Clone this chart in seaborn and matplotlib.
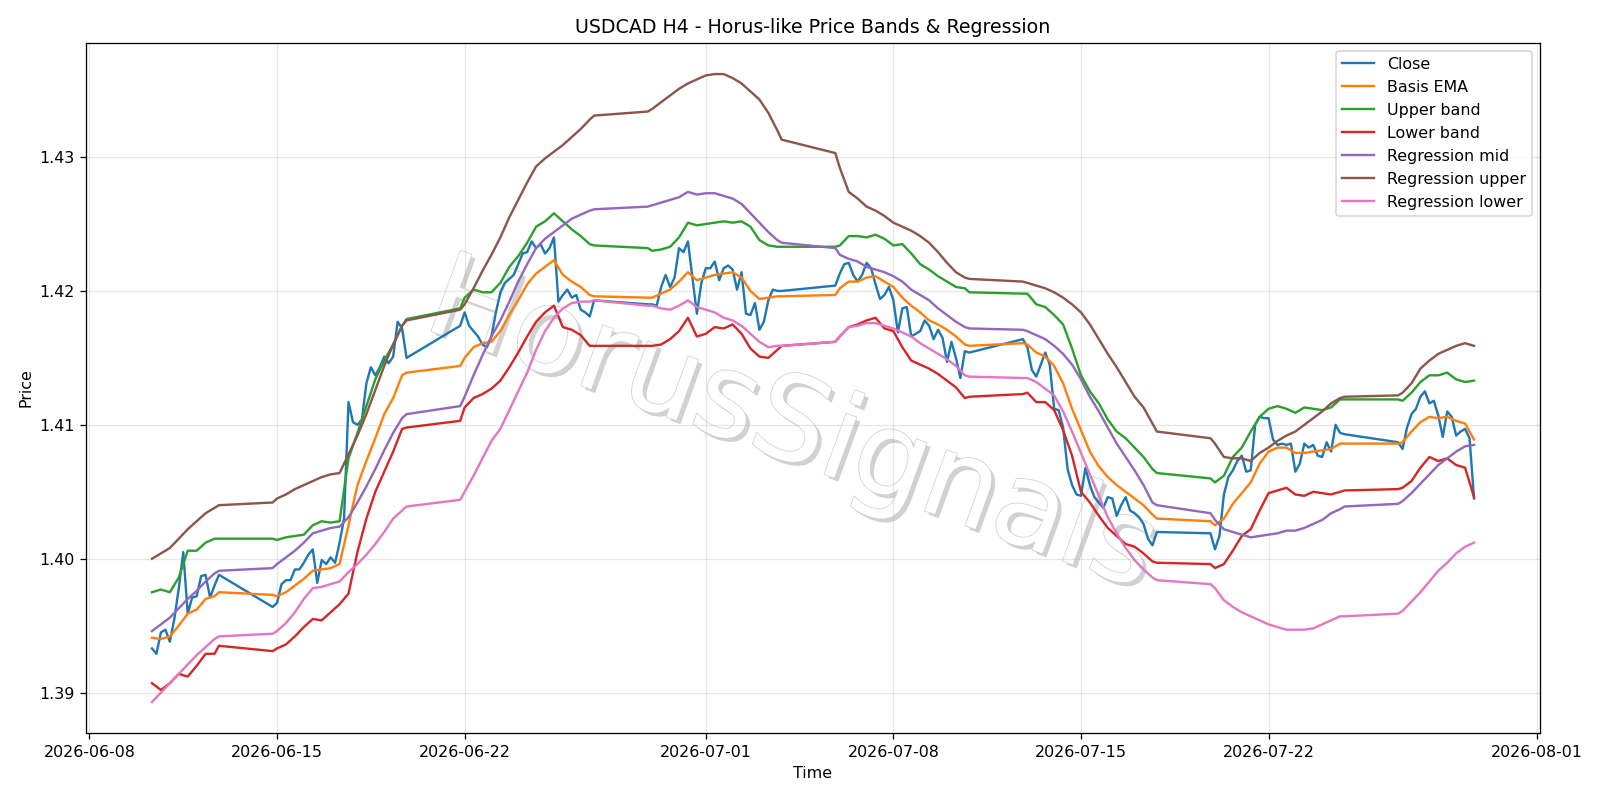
import pandas as pd
import numpy as np
import matplotlib
matplotlib.use("Agg")
import matplotlib.pyplot as plt
import matplotlib.patheffects as pe
import seaborn as sns

# ---------------------------------------------------------
# H4 bars of the FX week: Sunday 20:00 through Friday 20:00
# ---------------------------------------------------------
bars = pd.date_range("2026-06-10 08:00", "2026-07-29 16:00", freq="4h")
bars = bars[~((bars.dayofweek == 5) | ((bars.dayofweek == 6) & (bars.hour < 20)))]
# smooth curves are read every 8 hours (plus Friday close / Sunday open)
knots = bars[(bars.hour % 8 == 0) | ((bars.hour == 20) & bars.dayofweek.isin([4, 6]))]

# one line per trading week
close = [
    1.3933, 1.3929, 1.3945, 1.3947, 1.3938, 1.3955, 1.3978, 1.4005, 1.3959, 1.3971, 1.3972, 1.3987, 1.3988, 1.3971, 1.3980, 1.3988,
    1.3964, 1.3967, 1.3981, 1.3984, 1.3984, 1.3992, 1.3992, 1.3997, 1.4003, 1.4007, 1.3982, 1.3999, 1.3996, 1.4001, 1.3997, 1.4012, 1.4030, 1.4117, 1.4102, 1.4100, 1.4104, 1.4131, 1.4143, 1.4137, 1.4143, 1.4151, 1.4146, 1.4151, 1.4177, 1.4172, 1.4150,
    1.4174, 1.4184, 1.4174, 1.4170, 1.4166, 1.4160, 1.4158, 1.4166, 1.4184, 1.4199, 1.4206, 1.4209, 1.4212, 1.4220, 1.4228, 1.4229, 1.4237, 1.4232, 1.4235, 1.4228, 1.4232, 1.4240, 1.4192, 1.4197, 1.4201, 1.4195, 1.4197, 1.4186, 1.4184, 1.4181, 1.4193,
    1.4190, 1.4190, 1.4189, 1.4203, 1.4212, 1.4203, 1.4210, 1.4232, 1.4229, 1.4237, 1.4210, 1.4183, 1.4206, 1.4217, 1.4217, 1.4222, 1.4208, 1.4217, 1.4219, 1.4216, 1.4201, 1.4214, 1.4183, 1.4182, 1.4191, 1.4171, 1.4177, 1.4193, 1.4201, 1.4200, 1.4200,
    1.4204, 1.4213, 1.4220, 1.4221, 1.4212, 1.4207, 1.4212, 1.4221, 1.4217, 1.4205, 1.4194, 1.4197, 1.4203, 1.4193, 1.4169, 1.4187, 1.4188, 1.4166, 1.4168, 1.4170, 1.4178, 1.4174, 1.4164, 1.4171, 1.4165, 1.4147, 1.4162, 1.4150, 1.4135, 1.4155, 1.4154,
    1.4164, 1.4158, 1.4141, 1.4136, 1.4145, 1.4154, 1.4145, 1.4112, 1.4111, 1.4098, 1.4067, 1.4055, 1.4048, 1.4047, 1.4068, 1.4055, 1.4046, 1.4042, 1.4038, 1.4046, 1.4045, 1.4032, 1.4040, 1.4046, 1.4036, 1.4034, 1.4031, 1.4026, 1.4015, 1.4010, 1.4020,
    1.4019, 1.4007, 1.4017, 1.4048, 1.4061, 1.4066, 1.4073, 1.4077, 1.4065, 1.4066, 1.4100, 1.4106, 1.4105, 1.4105, 1.4089, 1.4085, 1.4086, 1.4085, 1.4086, 1.4065, 1.4071, 1.4086, 1.4083, 1.4085, 1.4077, 1.4076, 1.4087, 1.4080, 1.4100, 1.4094, 1.4093,
    1.4087, 1.4082, 1.4098, 1.4108, 1.4112, 1.4121, 1.4125, 1.4116, 1.4118, 1.4107, 1.4091, 1.4110, 1.4106, 1.4092, 1.4095, 1.4097, 1.4090, 1.4045,
]

basis_ema = [
    1.3941, 1.3940, 1.3942, 1.3950, 1.3959, 1.3962, 1.3970, 1.3972, 1.3975,
    1.3973, 1.3972, 1.3975, 1.3980, 1.3985, 1.3991, 1.3992, 1.3993, 1.3996, 1.4025, 1.4055, 1.4073, 1.4090, 1.4108, 1.4120, 1.4137, 1.4139,
    1.4144, 1.4150, 1.4158, 1.4161, 1.4162, 1.4170, 1.4182, 1.4193, 1.4205, 1.4213, 1.4218, 1.4223, 1.4212, 1.4207, 1.4203, 1.4197, 1.4196,
    1.4195, 1.4195, 1.4198, 1.4201, 1.4207, 1.4214, 1.4208, 1.4210, 1.4212, 1.4213, 1.4214, 1.4210, 1.4200, 1.4194, 1.4195, 1.4196, 1.4196,
    1.4197, 1.4202, 1.4207, 1.4207, 1.4210, 1.4211, 1.4207, 1.4203, 1.4195, 1.4189, 1.4184, 1.4178, 1.4175, 1.4171, 1.4166, 1.4160, 1.4159,
    1.4161, 1.4160, 1.4154, 1.4151, 1.4144, 1.4131, 1.4112, 1.4096, 1.4080, 1.4069, 1.4061, 1.4055, 1.4050, 1.4045, 1.4040, 1.4033, 1.4030,
    1.4028, 1.4025, 1.4030, 1.4041, 1.4049, 1.4057, 1.4071, 1.4080, 1.4083, 1.4083, 1.4079, 1.4079, 1.4080, 1.4081, 1.4082, 1.4086, 1.4086,
    1.4086, 1.4087, 1.4095, 1.4102, 1.4106, 1.4105, 1.4106, 1.4103, 1.4101, 1.4089,
]

upper_band = [
    1.3975, 1.3977, 1.3975, 1.3986, 1.4006, 1.4006, 1.4012, 1.4015, 1.4015,
    1.4015, 1.4014, 1.4016, 1.4017, 1.4018, 1.4025, 1.4028, 1.4027, 1.4028, 1.4075, 1.4094, 1.4114, 1.4134, 1.4148, 1.4160, 1.4174, 1.4179,
    1.4187, 1.4195, 1.4201, 1.4199, 1.4199, 1.4206, 1.4218, 1.4226, 1.4236, 1.4248, 1.4252, 1.4258, 1.4252, 1.4246, 1.4241, 1.4235, 1.4234,
    1.4232, 1.4230, 1.4231, 1.4233, 1.4240, 1.4251, 1.4249, 1.4250, 1.4251, 1.4252, 1.4251, 1.4252, 1.4248, 1.4238, 1.4234, 1.4233, 1.4233,
    1.4233, 1.4234, 1.4241, 1.4241, 1.4240, 1.4242, 1.4239, 1.4234, 1.4235, 1.4228, 1.4220, 1.4216, 1.4211, 1.4207, 1.4203, 1.4202, 1.4199,
    1.4198, 1.4198, 1.4190, 1.4188, 1.4182, 1.4175, 1.4157, 1.4137, 1.4125, 1.4116, 1.4104, 1.4095, 1.4090, 1.4083, 1.4076, 1.4067, 1.4064,
    1.4060, 1.4057, 1.4062, 1.4076, 1.4083, 1.4095, 1.4106, 1.4112, 1.4114, 1.4112, 1.4109, 1.4113, 1.4112, 1.4111, 1.4113, 1.4119, 1.4119,
    1.4119, 1.4118, 1.4124, 1.4132, 1.4137, 1.4137, 1.4139, 1.4134, 1.4132, 1.4133,
]

lower_band = [
    1.3907, 1.3902, 1.3907, 1.3914, 1.3912, 1.3920, 1.3929, 1.3929, 1.3935,
    1.3931, 1.3933, 1.3936, 1.3942, 1.3949, 1.3955, 1.3954, 1.3960, 1.3966, 1.3974, 1.4005, 1.4030, 1.4050, 1.4065, 1.4080, 1.4097, 1.4098,
    1.4103, 1.4113, 1.4120, 1.4123, 1.4127, 1.4133, 1.4143, 1.4154, 1.4166, 1.4177, 1.4184, 1.4189, 1.4173, 1.4171, 1.4167, 1.4159, 1.4159,
    1.4159, 1.4159, 1.4160, 1.4164, 1.4170, 1.4180, 1.4166, 1.4168, 1.4173, 1.4172, 1.4175, 1.4168, 1.4157, 1.4151, 1.4150, 1.4156, 1.4159,
    1.4162, 1.4166, 1.4173, 1.4175, 1.4178, 1.4180, 1.4172, 1.4170, 1.4158, 1.4148, 1.4145, 1.4142, 1.4138, 1.4133, 1.4128, 1.4120, 1.4121,
    1.4123, 1.4124, 1.4117, 1.4117, 1.4111, 1.4096, 1.4077, 1.4050, 1.4042, 1.4032, 1.4023, 1.4017, 1.4011, 1.4009, 1.4004, 1.3998, 1.3997,
    1.3996, 1.3993, 1.3996, 1.4006, 1.4017, 1.4022, 1.4036, 1.4049, 1.4051, 1.4053, 1.4048, 1.4047, 1.4050, 1.4049, 1.4048, 1.4050, 1.4051,
    1.4052, 1.4053, 1.4058, 1.4068, 1.4076, 1.4073, 1.4075, 1.4070, 1.4068, 1.4046,
]

reg_mid = [
    1.3946, 1.3951, 1.3956, 1.3963, 1.3970, 1.3976, 1.3983, 1.3989, 1.3991,
    1.3993, 1.3996, 1.4001, 1.4006, 1.4012, 1.4019, 1.4021, 1.4023, 1.4024, 1.4031, 1.4042, 1.4054, 1.4067, 1.4081, 1.4094, 1.4105, 1.4108,
    1.4114, 1.4121, 1.4137, 1.4152, 1.4166, 1.4178, 1.4192, 1.4207, 1.4220, 1.4232, 1.4239, 1.4244, 1.4249, 1.4254, 1.4257, 1.4260, 1.4261,
    1.4263, 1.4264, 1.4266, 1.4268, 1.4270, 1.4274, 1.4272, 1.4273, 1.4273, 1.4271, 1.4269, 1.4265, 1.4258, 1.4251, 1.4244, 1.4238, 1.4236,
    1.4232, 1.4227, 1.4224, 1.4222, 1.4218, 1.4216, 1.4214, 1.4211, 1.4207, 1.4201, 1.4197, 1.4193, 1.4187, 1.4182, 1.4177, 1.4173, 1.4172,
    1.4171, 1.4170, 1.4167, 1.4164, 1.4159, 1.4153, 1.4145, 1.4134, 1.4121, 1.4110, 1.4098, 1.4086, 1.4076, 1.4066, 1.4055, 1.4042, 1.4040,
    1.4034, 1.4029, 1.4022, 1.4020, 1.4018, 1.4016, 1.4017, 1.4018, 1.4019, 1.4021, 1.4021, 1.4023, 1.4026, 1.4029, 1.4034, 1.4037, 1.4039,
    1.4041, 1.4043, 1.4049, 1.4056, 1.4063, 1.4070, 1.4075, 1.4080, 1.4084, 1.4085,
]

reg_upper = [
    1.4000, 1.4004, 1.4008, 1.4015, 1.4022, 1.4028, 1.4034, 1.4038, 1.4040,
    1.4042, 1.4045, 1.4048, 1.4052, 1.4055, 1.4058, 1.4061, 1.4063, 1.4064, 1.4078, 1.4092, 1.4108, 1.4126, 1.4144, 1.4160, 1.4174, 1.4178,
    1.4186, 1.4190, 1.4202, 1.4215, 1.4227, 1.4240, 1.4255, 1.4268, 1.4281, 1.4293, 1.4299, 1.4304, 1.4309, 1.4315, 1.4321, 1.4328, 1.4331,
    1.4334, 1.4336, 1.4341, 1.4346, 1.4351, 1.4355, 1.4358, 1.4361, 1.4362, 1.4362, 1.4359, 1.4355, 1.4349, 1.4343, 1.4333, 1.4320, 1.4313,
    1.4303, 1.4292, 1.4274, 1.4269, 1.4263, 1.4260, 1.4256, 1.4251, 1.4248, 1.4245, 1.4241, 1.4236, 1.4229, 1.4221, 1.4214, 1.4210, 1.4209,
    1.4207, 1.4206, 1.4204, 1.4202, 1.4199, 1.4195, 1.4190, 1.4184, 1.4175, 1.4164, 1.4153, 1.4143, 1.4132, 1.4121, 1.4113, 1.4101, 1.4095,
    1.4090, 1.4086, 1.4076, 1.4075, 1.4075, 1.4073, 1.4079, 1.4083, 1.4088, 1.4092, 1.4095, 1.4100, 1.4105, 1.4110, 1.4116, 1.4120, 1.4121,
    1.4122, 1.4124, 1.4131, 1.4142, 1.4148, 1.4153, 1.4156, 1.4159, 1.4161, 1.4159,
]

reg_lower = [
    1.3893, 1.3900, 1.3907, 1.3914, 1.3921, 1.3928, 1.3934, 1.3940, 1.3942,
    1.3944, 1.3946, 1.3952, 1.3960, 1.3970, 1.3978, 1.3979, 1.3981, 1.3983, 1.3990, 1.3996, 1.4003, 1.4011, 1.4020, 1.4030, 1.4036, 1.4039,
    1.4044, 1.4050, 1.4062, 1.4075, 1.4088, 1.4097, 1.4111, 1.4125, 1.4139, 1.4156, 1.4170, 1.4180, 1.4187, 1.4191, 1.4192, 1.4192, 1.4193,
    1.4189, 1.4189, 1.4187, 1.4186, 1.4189, 1.4193, 1.4188, 1.4186, 1.4184, 1.4180, 1.4178, 1.4174, 1.4168, 1.4162, 1.4158, 1.4159, 1.4159,
    1.4162, 1.4166, 1.4173, 1.4174, 1.4176, 1.4176, 1.4174, 1.4172, 1.4169, 1.4166, 1.4161, 1.4157, 1.4153, 1.4149, 1.4144, 1.4137, 1.4136,
    1.4135, 1.4135, 1.4132, 1.4127, 1.4122, 1.4110, 1.4095, 1.4079, 1.4063, 1.4047, 1.4031, 1.4019, 1.4008, 1.3999, 1.3992, 1.3986, 1.3984,
    1.3981, 1.3978, 1.3969, 1.3964, 1.3960, 1.3957, 1.3954, 1.3951, 1.3949, 1.3947, 1.3947, 1.3947, 1.3948, 1.3951, 1.3954, 1.3957, 1.3957,
    1.3959, 1.3961, 1.3968, 1.3975, 1.3983, 1.3991, 1.3997, 1.4004, 1.4009, 1.4012,
]

series = [
    ("Close", bars, close),
    ("Basis EMA", knots, basis_ema),
    ("Upper band", knots, upper_band),
    ("Lower band", knots, lower_band),
    ("Regression mid", knots, reg_mid),
    ("Regression upper", knots, reg_upper),
    ("Regression lower", knots, reg_lower),
]
for name, x, y in series:
    assert len(x) == len(y), (name, len(x), len(y))

# ---------------------------------------------------------
# Plot
# ---------------------------------------------------------
fig, ax = plt.subplots(figsize=(14, 7))

for i, (name, x, y) in enumerate(series):
    sns.lineplot(x=x, y=y, ax=ax, label=name, color=f"C{i}", linewidth=1.5)

# watermark
ax.text(0.485, 0.443, "HorusSignals", transform=ax.transAxes, fontsize=74,
        rotation=-20, ha="center", va="center", color="white", zorder=1,
        path_effects=[pe.withSimplePatchShadow(offset=(2.5, -2.5), shadow_rgbFace="0.6", alpha=0.45),
                      pe.withStroke(linewidth=1.0, foreground="0.82")])

ax.set_title("USDCAD H4 - Horus-like Price Bands & Regression")
ax.set_xlabel("Time")
ax.set_ylabel("Price")
ax.grid(True, alpha=0.3)
ax.legend(loc="upper right")

fig.tight_layout()
fig.savefig("out.png", dpi=1600 / 14)
